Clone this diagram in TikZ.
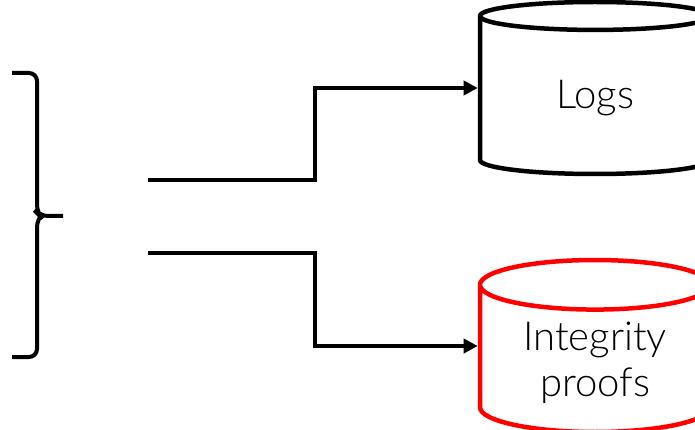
\documentclass[tikz,border=0pt]{standalone}
\usepackage{fontspec}
\setmainfont{Lato}[UprightFont=* Light]
\usetikzlibrary{shapes.geometric,arrows.meta}

\begin{document}
\begin{tikzpicture}[x=1pt,y=-1pt,
  store/.style={cylinder,shape border rotate=90,shape aspect=0.33,draw,
    line width=4.5pt,minimum width=230pt,minimum height=172pt,anchor=shape center,
    align=center,font=\fontsize{40}{46}\selectfont},
  flow/.style={line width=4pt,-{Triangle[length=14pt,width=14pt]}}]
  \useasboundingbox (0,0) rectangle (695,430);
  \draw[line width=4pt,rounded corners=8pt] (12,73) -- (37,73) -- (37,213)
    -- (40,216) -- (63,216);
  \draw[line width=4pt,rounded corners=8pt] (40,216) -- (37,219) -- (37,357) -- (12,357);
  \node[store] (logs) at (595,88) {Logs};
  \node[store,draw=red] (proofs) at (595,346) {Integrity\\proofs};
  \coordinate (src1) at (148,180);
  \coordinate (src2) at (148,253);
  \draw[flow] (src1) -- (315,180) |- (logs.west |- logs.shape center);
  \draw[flow] (src2) -- (315,253) |- (proofs.west |- proofs.shape center);
\end{tikzpicture}
\end{document}
